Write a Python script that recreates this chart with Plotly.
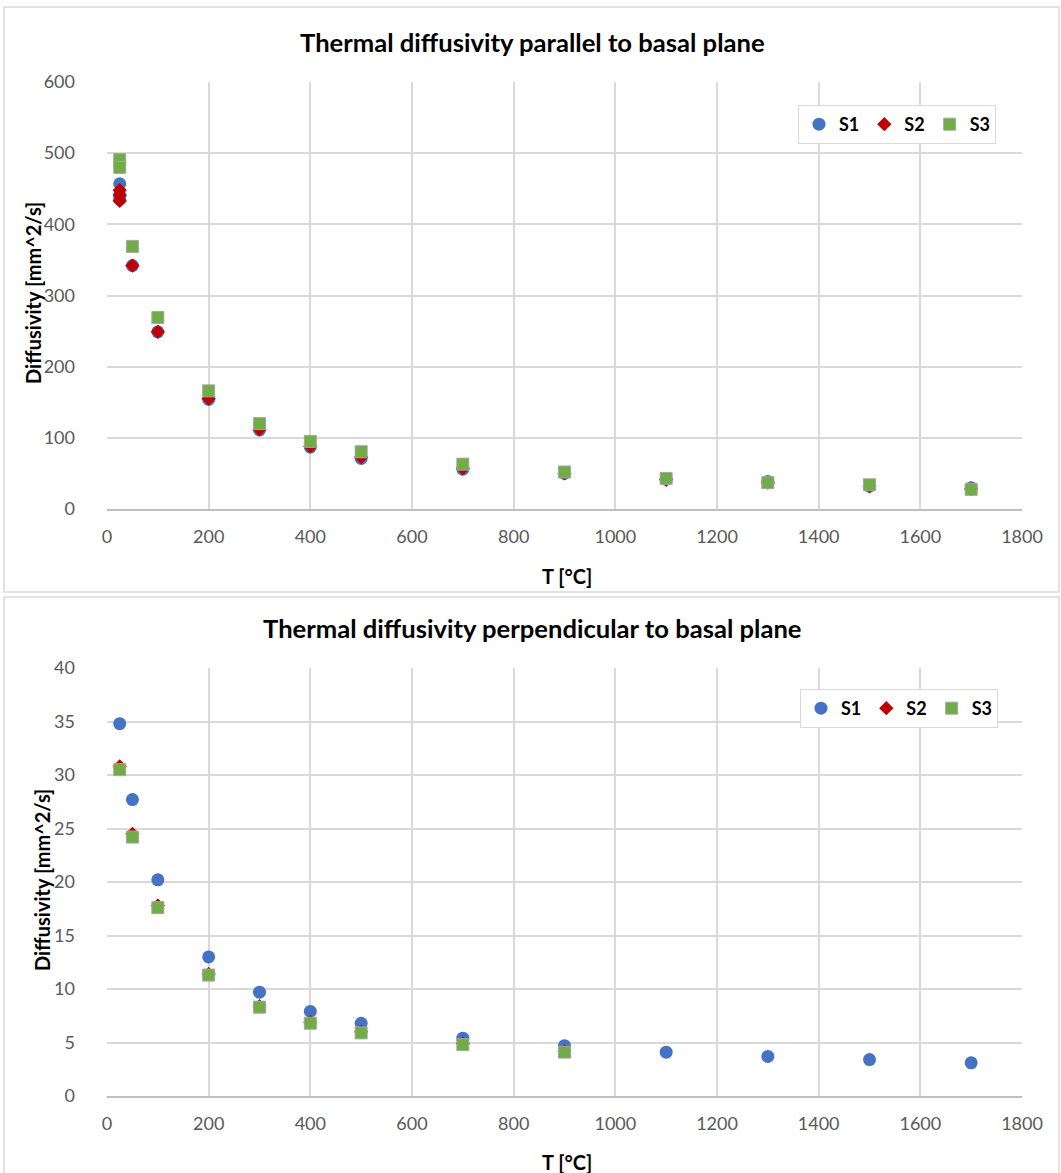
import plotly.graph_objects as go

W, H = 1061, 1173

# --- data: thermal diffusivity parallel to basal plane [mm^2/s] ---
par_T_s1 = [25, 25, 25, 50, 100, 200, 300, 400, 500, 700, 900, 1100, 1300, 1500, 1700]
par_s1 = [457, 441, 435, 342, 249, 154, 111, 87, 71, 56, 50, 42, 38.5, 32, 30]
par_T_s2 = [25, 25, 25, 50, 100, 200, 300, 400, 500, 700, 900, 1100, 1300, 1500, 1700]
par_s2 = [448, 441, 433, 342, 249, 155, 112, 88, 73, 57, 50, 41, 37, 32, 28]
par_T_s3 = [25, 25, 50, 100, 200, 300, 400, 500, 700, 900, 1100, 1300, 1500, 1700]
par_s3 = [491, 480, 369, 269, 166, 120, 95, 80.5, 63, 52, 43, 37, 34, 27.6]

# --- data: thermal diffusivity perpendicular to basal plane [mm^2/s] ---
perp_T_s1 = [25, 50, 100, 200, 300, 400, 500, 700, 900, 1100, 1300, 1500, 1700]
perp_s1 = [34.8, 27.7, 20.2, 13.0, 9.7, 7.9, 6.8, 5.4, 4.7, 4.1, 3.7, 3.4, 3.1]
perp_T_s2 = [25, 50, 100, 200, 300, 400, 500, 700, 900]
perp_s2 = [30.8, 24.5, 17.8, 11.4, 8.4, 6.9, 6.0, 4.9, 4.2]
perp_T_s3 = [25, 50, 100, 200, 300, 400, 500, 700, 900]
perp_s3 = [30.5, 24.2, 17.6, 11.3, 8.3, 6.8, 5.9, 4.8, 4.1]

x_ticks = [0, 200, 400, 600, 800, 1000, 1200, 1400, 1600, 1800]
par_y_ticks = [0, 100, 200, 300, 400, 500, 600]
perp_y_ticks = [0, 5, 10, 15, 20, 25, 30, 35, 40]

BLUE, RED, GREEN = "#4472C4", "#C00000", "#70AD47"
GRID = "#d9d9d9"
FONT = "Lato, 'Open Sans', sans-serif"
TICKC = "#595959"


def px_x(p):
    return p / W


def px_y(p):
    return 1 - p / H


fig = go.Figure()

series = [
    ("S1", par_T_s1, par_s1, perp_T_s1, perp_s1, dict(symbol="circle", size=13, color=BLUE)),
    ("S2", par_T_s2, par_s2, perp_T_s2, perp_s2, dict(symbol="diamond", size=11, color=RED)),
    ("S3", par_T_s3, par_s3, perp_T_s3, perp_s3, dict(symbol="square", size=12, color=GREEN,
                                                     line=dict(color="#a5a5a5", width=1))),
]

for name, tx, ty, bx, by, mk in series:
    fig.add_trace(go.Scatter(x=tx, y=ty, mode="markers", name=name, marker=mk,
                             xaxis="x", yaxis="y", legend="legend"))
    fig.add_trace(go.Scatter(x=bx, y=by, mode="markers", name=name, marker=mk,
                             xaxis="x2", yaxis="y2", legend="legend2"))

xdom = [px_x(107), px_x(1022)]
common_x = dict(range=[0, 1800], tickvals=x_ticks, showgrid=True, gridcolor=GRID,
                gridwidth=1.5, zeroline=False, showline=True, linecolor="#bfbfbf",
                linewidth=1.5, tickfont=dict(family=FONT, size=18, color=TICKC),
                ticks="", ticklabelstandoff=11, fixedrange=True)
common_y = dict(showgrid=True, gridcolor=GRID, gridwidth=1.5, zeroline=False,
                showline=False, tickfont=dict(family=FONT, size=18, color=TICKC),
                ticks="", ticklabelstandoff=31, fixedrange=True)

legend_style = dict(orientation="h", bgcolor="white", bordercolor=GRID, borderwidth=1,
                    font=dict(family=FONT, size=18, color="#000000", weight="bold"),
                    itemwidth=30, tracegroupgap=0, xanchor="right", yanchor="top")

fig.update_layout(
    width=W, height=H,
    margin=dict(l=0, r=0, t=0, b=0, autoexpand=False),
    paper_bgcolor="white", plot_bgcolor="white",
    showlegend=True,
    xaxis=dict(domain=xdom, anchor="y", **common_x),
    yaxis=dict(domain=[px_y(509), px_y(82)], anchor="x", range=[0, 600],
               tickvals=par_y_ticks, **common_y),
    xaxis2=dict(domain=xdom, anchor="y2", **common_x),
    yaxis2=dict(domain=[px_y(1096), px_y(668)], anchor="x2", range=[0, 40],
                tickvals=perp_y_ticks, **common_y),
    legend=dict(x=px_x(996), y=px_y(105), **legend_style),
    legend2=dict(x=px_x(998), y=px_y(689), **legend_style),
)

# panel frames
for top, bot in [(7, 592), (597, 1190)]:
    fig.add_shape(type="rect", xref="paper", yref="paper",
                  x0=px_x(4), x1=px_x(1059), y0=px_y(bot), y1=px_y(top),
                  line=dict(color=GRID, width=1.5), fillcolor="rgba(0,0,0,0)", layer="below")

texts = [
    ("Thermal diffusivity parallel to basal plane", 532, 42, 0, 25.6),
    ("Thermal diffusivity perpendicular to basal plane", 532, 628, 0, 25.6),
    ("T [°C]", 567, 576, 0, 20),
    ("T [°C]", 567, 1162, 0, 20),
    ("Diffusivity [mm^2/s]", 33, 293, -90, 20),
    ("Diffusivity [mm^2/s]", 42, 880, -90, 20),
]
for t, x, y, ang, sz in texts:
    fig.add_annotation(text=f"<b>{t}</b>", xref="paper", yref="paper",
                       x=px_x(x), y=px_y(y), showarrow=False, textangle=ang,
                       xanchor="center", yanchor="middle",
                       font=dict(family=FONT, size=sz, color="#000000"))

fig.write_html("out.html")
